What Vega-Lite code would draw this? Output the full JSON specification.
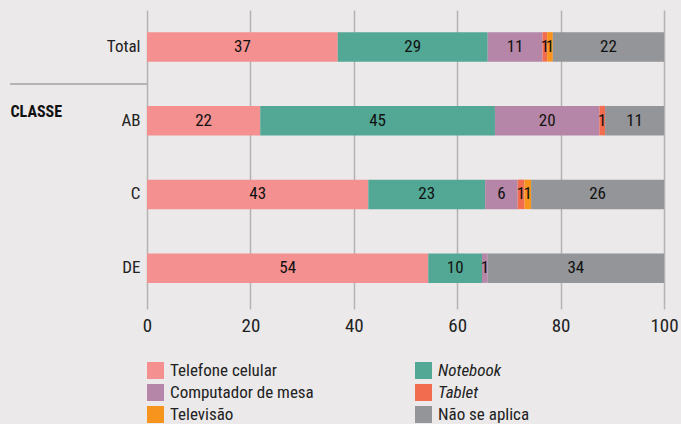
{
  "$schema": "https://vega.github.io/schema/vega-lite/v6.json",
  "width": 517,
  "height": 295,
  "autosize": {"type": "none"},
  "padding": {"left": 147, "top": 10, "right": 17, "bottom": 119},
  "background": "#EBE9EA",
  "config": {
    "view": {"stroke": null},
    "font": "Roboto Condensed, Liberation Sans Narrow, DejaVu Sans Condensed, sans-serif"
  },
  "data": {
    "values": [
      {"grupo": "Total", "tipo": "Telefone celular", "ord": 1, "valor": 36.9},
      {"grupo": "Total", "tipo": "Notebook", "ord": 2, "valor": 29.0},
      {"grupo": "Total", "tipo": "Computador de mesa", "ord": 3, "valor": 10.6},
      {"grupo": "Total", "tipo": "Tablet", "ord": 4, "valor": 0.9},
      {"grupo": "Total", "tipo": "Televisão", "ord": 5, "valor": 1.1},
      {"grupo": "Total", "tipo": "Não se aplica", "ord": 6, "valor": 21.5},
      {"grupo": "AB", "tipo": "Telefone celular", "ord": 1, "valor": 21.9},
      {"grupo": "AB", "tipo": "Notebook", "ord": 2, "valor": 45.4},
      {"grupo": "AB", "tipo": "Computador de mesa", "ord": 3, "valor": 20.2},
      {"grupo": "AB", "tipo": "Tablet", "ord": 4, "valor": 1.1},
      {"grupo": "AB", "tipo": "Não se aplica", "ord": 6, "valor": 11.4},
      {"grupo": "C", "tipo": "Telefone celular", "ord": 1, "valor": 42.8},
      {"grupo": "C", "tipo": "Notebook", "ord": 2, "valor": 22.6},
      {"grupo": "C", "tipo": "Computador de mesa", "ord": 3, "valor": 6.3},
      {"grupo": "C", "tipo": "Tablet", "ord": 4, "valor": 1.3},
      {"grupo": "C", "tipo": "Televisão", "ord": 5, "valor": 1.3},
      {"grupo": "C", "tipo": "Não se aplica", "ord": 6, "valor": 25.7},
      {"grupo": "DE", "tipo": "Telefone celular", "ord": 1, "valor": 54.4},
      {"grupo": "DE", "tipo": "Notebook", "ord": 2, "valor": 10.4},
      {"grupo": "DE", "tipo": "Computador de mesa", "ord": 3, "valor": 1.1},
      {"grupo": "DE", "tipo": "Não se aplica", "ord": 6, "valor": 34.1}
    ]
  },
  "layer": [
    {
      "mark": {"type": "bar", "height": {"band": 0.4}},
      "encoding": {
        "y": {
          "field": "grupo", "type": "nominal",
          "scale": {"domain": ["Total", "AB", "C", "DE"], "paddingInner": 0, "paddingOuter": 0},
          "axis": {
            "title": "CLASSE", "titleAngle": 0, "titleAlign": "left", "titleBaseline": "top",
            "titleX": -137, "titleY": 93, "titleFontSize": 16, "titleFontWeight": "bold", "titleColor": "#111",
            "labelFontSize": 17, "labelColor": "#222", "labelPadding": 7,
            "domain": false, "ticks": false, "grid": false
          }
        },
        "x": {
          "field": "valor", "type": "quantitative", "stack": "zero",
          "scale": {"domain": [0, 100], "nice": false},
          "axis": {
            "title": null, "values": [0, 20, 40, 60, 80, 100], "labelFlush": false,
            "grid": true, "gridColor": "#b3b3b3", "gridWidth": 1.5,
            "domain": false, "tickColor": "#b3b3b3", "tickWidth": 1.5, "tickSize": 4,
            "labelFontSize": 19, "labelColor": "#222", "labelPadding": 7
          }
        },
        "color": {
          "field": "tipo", "type": "nominal",
          "scale": {
            "domain": ["Telefone celular", "Notebook", "Computador de mesa", "Tablet", "Televisão", "Não se aplica"],
            "range": ["#F4908F", "#52A894", "#B586A7", "#F26D50", "#F7941D", "#939598"]
          },
          "legend": {
            "orient": "none", "legendX": 0, "legendY": 352, "columns": 2, "direction": "horizontal", "columnPadding": 101,
            "title": null, "symbolType": "square", "symbolSize": 289, "symbolStrokeWidth": 0,
            "labelFontSize": 17, "labelColor": "#222", "rowPadding": 4, "labelOffset": 6,
            "encode": {"labels": {"update": {"fontStyle": {"signal": "datum.label == 'Notebook' || datum.label == 'Tablet' ? 'italic' : 'normal'"}}}}
          }
        },
        "order": {"field": "ord", "type": "quantitative"}
      }
    },
    {
      "mark": {"type": "text", "fontSize": 17, "color": "#111"},
      "encoding": {
        "y": {"field": "grupo", "type": "nominal"},
        "x": {"field": "valor", "type": "quantitative", "stack": "zero", "bandPosition": 0.5},
        "detail": {"field": "tipo", "type": "nominal"},
        "order": {"field": "ord", "type": "quantitative"},
        "text": {"field": "valor", "type": "quantitative", "format": ".0f"}
      }
    },
    {
      "mark": {"type": "rule", "color": "#b3b3b3", "strokeWidth": 1.5},
      "encoding": {
        "y": {"datum": "AB", "bandPosition": 0},
        "x": {"datum": -26.5},
        "x2": {"datum": 0}
      }
    }
  ]
}
